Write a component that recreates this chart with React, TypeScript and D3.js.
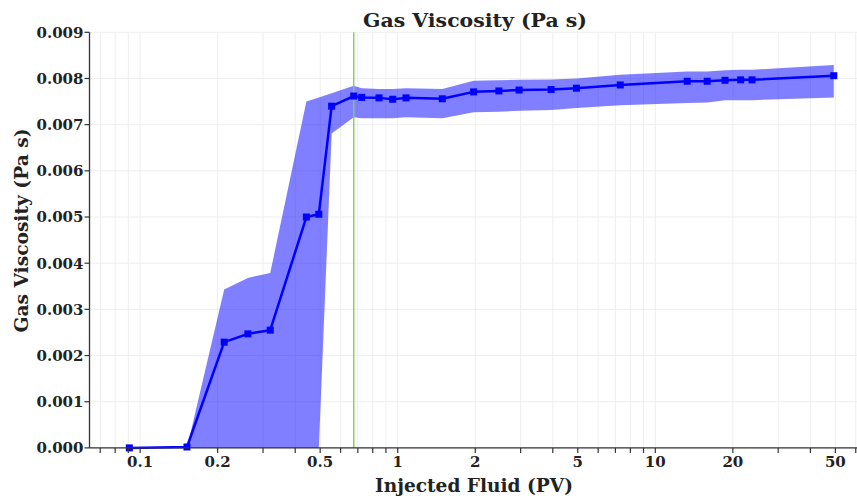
import React from "react";
import * as d3 from "d3";

const injectedPV = [0.0908, 0.152, 0.212, 0.262, 0.32, 0.442, 0.494, 0.554, 0.675, 0.725, 0.846, 0.956, 1.077, 1.49, 1.97, 2.47, 2.96, 3.94, 4.94, 7.31, 13.3, 15.9, 18.65, 21.45, 23.74, 49.3];
const viscosityMean = [0, 0.00002, 0.00229, 0.00247, 0.00255, 0.005, 0.00506, 0.0074, 0.00762, 0.00759, 0.00758, 0.00755, 0.00758, 0.00756, 0.00771, 0.00773, 0.00775, 0.00776, 0.00779, 0.00786, 0.00794, 0.00794, 0.00796, 0.00797, 0.00797, 0.00806];
const viscosityUpper = [0, 0, 0.00343, 0.00368, 0.00379, 0.0075, 0.00759, 0.00768, 0.00784, 0.00779, 0.00777, 0.00777, 0.00779, 0.00777, 0.00795, 0.00796, 0.00797, 0.00798, 0.008, 0.00808, 0.00815, 0.00815, 0.00818, 0.00819, 0.00819, 0.00829];
const viscosityLower = [0, 0, 0, 0, 0, 0, 0, 0.00681, 0.00716, 0.00714, 0.00714, 0.00714, 0.00716, 0.00714, 0.00727, 0.00728, 0.0073, 0.00732, 0.00736, 0.00742, 0.00747, 0.00748, 0.00753, 0.00753, 0.00753, 0.00759];
const markerPV = 0.675;
const xTickLabels = [0.1, 0.2, 0.5, 1, 2, 5, 10, 20, 50];
const yTicks = [0, 0.001, 0.002, 0.003, 0.004, 0.005, 0.006, 0.007, 0.008, 0.009];
const xDomain = [0.0636, 62.6];
const yDomain = [0, 0.009];

const W = 857;
const H = 500;
const left = 89.5;
const right = 860.5;
const top = 32.3;
const bottom = 447.9;
const FONT = "'DejaVu Serif', serif";

export default function App() {
  const x = d3.scaleLog().domain(xDomain).range([left, right]);
  const y = d3.scaleLinear().domain(yDomain).range([bottom, top]);

  const allX: number[] = [];
  for (let e = -2; e <= 2; e++) {
    for (let m = 1; m <= 9; m++) {
      const v = m * Math.pow(10, e);
      if (v >= xDomain[0] && v <= xDomain[1]) allX.push(v);
    }
  }

  const idx = injectedPV.map((_, i) => i);
  const area = d3
    .area<number>()
    .x((i) => x(injectedPV[i]))
    .y0((i) => y(viscosityLower[i]))
    .y1((i) => y(viscosityUpper[i]));
  const line = d3
    .line<number>()
    .x((i) => x(injectedPV[i]))
    .y((i) => y(viscosityMean[i]));

  return (
    <svg width={W} height={H} style={{ position: "absolute", left: 0, top: 0, background: "#fff" }}>
      <g>
        {allX.map((v) => (
          <line key={"gx" + v} x1={x(v)} x2={x(v)} y1={top} y2={bottom} stroke="#eeeeee" strokeWidth={1} />
        ))}
        {yTicks.map((v) => (
          <line key={"gy" + v} x1={left} x2={right} y1={y(v)} y2={y(v)} stroke="#eeeeee" strokeWidth={1} />
        ))}
      </g>
      <path d={area(idx) || ""} fill="rgba(0,0,255,0.5)" stroke="none" />
      <line x1={x(markerPV)} x2={x(markerPV)} y1={top} y2={bottom} stroke="#80cf5c" strokeWidth={1.4} />
      <path d={line(idx) || ""} fill="none" stroke="#0000ff" strokeWidth={2.5} strokeLinejoin="round" />
      {idx.map((i) => (
        <rect
          key={"m" + i}
          x={x(injectedPV[i]) - 3.5}
          y={y(viscosityMean[i]) - 3.5}
          width={7}
          height={7}
          fill="#0000ff"
        />
      ))}
      <line x1={left} x2={left} y1={top} y2={bottom} stroke="#333" strokeWidth={1.3} />
      <line x1={left} x2={W} y1={bottom} y2={bottom} stroke="#333" strokeWidth={1.3} />
      {yTicks.map((v) => (
        <g key={"ty" + v}>
          <line x1={left - 5} x2={left} y1={y(v)} y2={y(v)} stroke="#333" strokeWidth={1.2} />
          <text
            x={left - 6}
            y={y(v)}
            dy="0.36em"
            textAnchor="end"
            fontFamily={FONT}
            fontWeight="bold"
            fontSize={15}
            fill="#222"
          >
            {d3.format(".3f")(v)}
          </text>
        </g>
      ))}
      {allX.map((v) => (
        <line key={"tx" + v} x1={x(v)} x2={x(v)} y1={bottom} y2={bottom + 5} stroke="#333" strokeWidth={1.2} />
      ))}
      {xTickLabels.map((v) => (
        <text
          key={"lx" + v}
          x={x(v)}
          y={466.7}
          textAnchor="middle"
          fontFamily={FONT}
          fontWeight="bold"
          fontSize={15}
          fill="#222"
        >
          {String(v)}
        </text>
      ))}
      <text
        x={475}
        y={27}
        textAnchor="middle"
        fontFamily={FONT}
        fontWeight="bold"
        fontSize={18}
        fill="#222"
        textLength={224}
        lengthAdjust="spacingAndGlyphs"
      >
        Gas Viscosity (Pa s)
      </text>
      <text
        x={474}
        y={492}
        textAnchor="middle"
        fontFamily={FONT}
        fontWeight="bold"
        fontSize={18}
        fill="#222"
        textLength={198}
        lengthAdjust="spacingAndGlyphs"
      >
        Injected Fluid (PV)
      </text>
      <text
        transform={`translate(27.5,230.5) rotate(-90)`}
        textAnchor="middle"
        fontFamily={FONT}
        fontWeight="bold"
        fontSize={18}
        fill="#222"
        textLength={204}
        lengthAdjust="spacingAndGlyphs"
      >
        Gas Viscosity (Pa s)
      </text>
    </svg>
  );
}
